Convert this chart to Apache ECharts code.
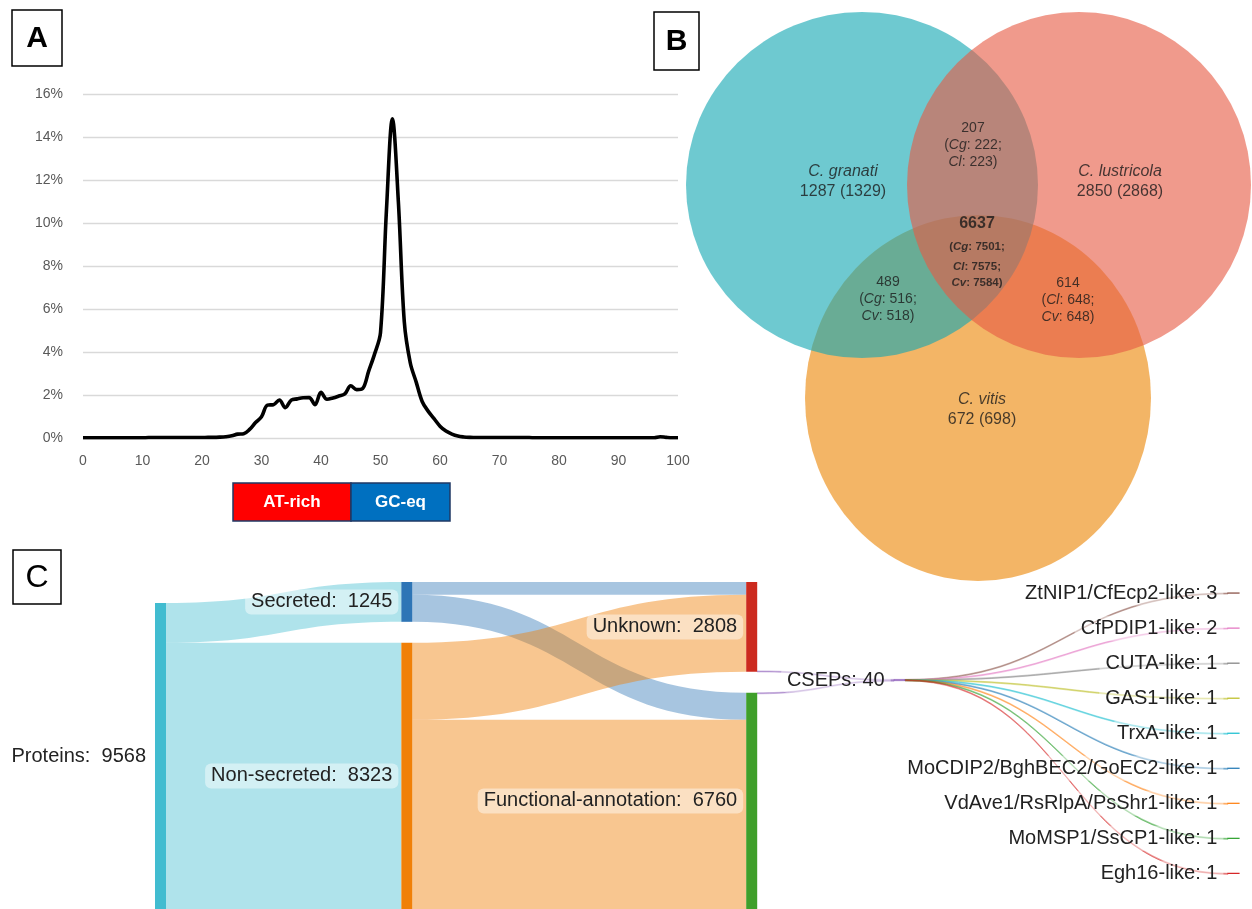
<!DOCTYPE html>
<html>
<head>
<meta charset="utf-8">
<script src="https://cdn.jsdelivr.net/npm/echarts@6/dist/echarts.min.js"></script>
<style>
html,body{margin:0;padding:0;background:#ffffff;}
#main{width:1252px;height:909px;}
</style>
</head>
<body>
<div id="main"></div>
<script>
// ---------------- Panel A data: GC content distribution ----------------
const gcContent = [0,1,2,3,4,5,6,7,8,9,10,11,12,13,14,15,16,17,18,19,20,21,22,23,24,25,26,27,28,29,30,
  31,32,33,34,35,36,37,38,39,40,41,42,43,44,45,46,47,48,49,50,51,52,53,54,55,56,57,58,59,60,
  61,62,63,64,65,66,67,68,69,70,71,72,73,74,75,76,77,78,79,80,81,82,83,84,85,86,87,88,89,90,
  91,92,93,94,95,96,97,98,99,100];
const genomeShare = [0.01,0.01,0.01,0.01,0.01,0.01,0.01,0.01,0.01,0.01,0.01,
  0.02,0.02,0.02,0.02,0.02,0.02,0.02,0.02,0.02,0.02,
  0.03,0.03,0.04,0.06,0.10,0.18,0.20,0.40,0.72,0.99,
  1.53,1.55,1.77,1.41,1.76,1.82,1.87,1.88,1.55,2.12,
  1.80,1.86,1.95,2.05,2.43,2.25,2.30,3.10,3.90,4.90,
  10.60,14.85,11.00,5.40,3.50,2.60,1.70,1.25,0.90,0.55,
  0.32,0.18,0.09,0.05,0.03,0.02,0.02,0.02,0.02,0.02,
  0.02,0.02,0.02,0.02,0.02,0.01,0.01,0.01,0.01,0.01,
  0.01,0.01,0.01,0.01,0.01,0.01,0.01,0.01,0.01,0.01,
  0.01,0.01,0.01,0.01,0.01,0.01,0.06,0.03,0.01,0.01];
const xTickStep = 10;
const yTickStep = 2;
const yMax = 16;
const regionNames = ['AT-rich', 'GC-eq'];

// ---------------- Panel B data: Venn diagram ----------------
const vennSpecies = ['C. granati', 'C. lustricola', 'C. vitis'];
const vennUnique = [1287, 2850, 672];
const vennUniqueTotal = [1329, 2868, 698];
const pairGL = [207, 222, 223];      // shared, Cg, Cl
const pairGV = [489, 516, 518];      // shared, Cg, Cv
const pairLV = [614, 648, 648];      // shared, Cl, Cv
const coreAll = [6637, 7501, 7575, 7584]; // shared, Cg, Cl, Cv

// ---------------- Panel C data: Sankey ----------------
const sankeyNodes = ['Proteins', 'Secreted', 'Non-secreted', 'Unknown', 'Functional-annotation', 'CSEPs'];
const sankeyNodeValues = [9568, 1245, 8323, 2808, 6760, 40];
const flowSource = ['Proteins', 'Proteins', 'Secreted', 'Secreted', 'Non-secreted', 'Non-secreted', 'Unknown', 'Functional-annotation'];
const flowTarget = ['Secreted', 'Non-secreted', 'Unknown', 'Functional-annotation', 'Unknown', 'Functional-annotation', 'CSEPs', 'CSEPs'];
const flowValue = [1245, 8323, 400, 845, 2408, 5915, 28, 12];
const csepFamilies = ['ZtNIP1/CfEcp2-like', 'CfPDIP1-like', 'CUTA-like', 'GAS1-like', 'TrxA-like',
  'MoCDIP2/BghBEC2/GoEC2-like', 'VdAve1/RsRlpA/PsShr1-like', 'MoMSP1/SsCP1-like', 'Egh16-like'];
const csepFamilyCounts = [3, 2, 1, 1, 1, 1, 1, 1, 1];

// ---------------- styling / layout ----------------
const FONT = 'Liberation Sans, Arial, Helvetica, sans-serif';
const nodeColors = {
  'Proteins': '#41bcd0', 'Secreted': '#2e75b6', 'Non-secreted': '#f08008',
  'Unknown': '#cc2a1e', 'Functional-annotation': '#3f9f2a', 'CSEPs': '#9467bd'
};
const linkRgba = {
  'Proteins': 'rgba(65,188,208,0.42)', 'Secreted': 'rgba(46,117,182,0.42)',
  'Non-secreted': 'rgba(239,128,8,0.45)'
};
const familyColors = ['#8c564b', '#e377c2', '#7f7f7f', '#bcbd22', '#17becf', '#1f77b4', '#ff7f0e', '#2ca02c', '#d62728'];
const nodeDepth = {'Proteins': 0, 'Secreted': 10, 'Non-secreted': 10, 'Unknown': 24, 'Functional-annotation': 24, 'CSEPs': 30};
const doubleSpaced = {'Proteins': 1, 'Secreted': 1, 'Non-secreted': 1, 'Unknown': 1, 'Functional-annotation': 1};

const SA = {left: 155, top: 582, width: 750, height: 327, gap: 21, nodeW: 11};
const SB = {left: 894, top: 593, width: 345, gap: 35, nodeW: 11};
const csepTopY = 679.4;

const kyA = (SA.height - SA.gap) / sankeyNodeValues[0];
const spacerCValue = (csepTopY - SA.top - SA.gap) / kyA;
const leafSum = csepFamilyCounts.reduce((a, b) => a + b, 0);
SB.height = (csepFamilies.length - 1) * SB.gap + leafSum * kyA;
const spacerBValue = (csepTopY - SB.top - SB.gap) / kyA;

const labelBase = {
  show: true, position: 'left', distance: 3, color: '#222', fontSize: 20, fontFamily: FONT,
  backgroundColor: 'rgba(255,255,255,0.45)', borderRadius: 6, padding: [3, 6, 2, 6]
};
const hiddenItem = {itemStyle: {color: 'rgba(0,0,0,0)', borderWidth: 0}, label: {show: false}};

// Series A nodes
const nodesA = [Object.assign({name: '__spacer0', depth: 0, value: 0}, hiddenItem)];
sankeyNodes.forEach((n, i) => {
  if (n === 'CSEPs') {
    nodesA.push(Object.assign({name: '__sink', depth: 29, value: 0}, hiddenItem));
    nodesA.push(Object.assign({name: '__spacerC', depth: 30, value: spacerCValue}, hiddenItem));
  }
  nodesA.push({
    name: n, depth: nodeDepth[n], value: sankeyNodeValues[i],
    itemStyle: {color: nodeColors[n], borderWidth: n === 'CSEPs' ? 0.6 : 0, borderColor: nodeColors[n]},
    label: Object.assign({}, labelBase, {formatter: n + (doubleSpaced[n] ? ':  ' : ': ') + sankeyNodeValues[i]})
  });
});
const linksA = flowSource.map((s, i) => {
  const t = flowTarget[i];
  if (t === 'CSEPs') {
    return {source: s, target: t, value: flowValue[i],
      lineStyle: {color: nodeColors['CSEPs'], opacity: 0.55, borderColor: nodeColors['CSEPs'], borderWidth: 0.7}};
  }
  return {source: s, target: t, value: flowValue[i], lineStyle: {color: linkRgba[s], opacity: 1}};
});
// invisible remainder of "Unknown" so the CSEPs ribbon leaves from its lower edge
const unknownIdx = sankeyNodes.indexOf('Unknown');
const unknownToCsep = flowValue[flowSource.indexOf('Unknown')];
linksA.push({source: 'Unknown', target: '__sink', value: sankeyNodeValues[unknownIdx] - unknownToCsep,
  lineStyle: {color: 'rgba(0,0,0,0)', opacity: 0}});

// Series B nodes (CSEPs fan-out)
const nodesB = [Object.assign({name: '__spacerB', depth: 0, value: spacerBValue}, hiddenItem),
  Object.assign({name: 'CSEPs', depth: 0, value: leafSum}, hiddenItem)];
const linksB = [];
csepFamilies.forEach((f, i) => {
  nodesB.push({
    name: f, depth: 1, value: csepFamilyCounts[i],
    itemStyle: {color: familyColors[i], borderColor: familyColors[i], borderWidth: 1.2},
    label: Object.assign({}, labelBase, {formatter: f + ': ' + csepFamilyCounts[i], distance: 4})
  });
  linksB.push({source: 'CSEPs', target: f, value: csepFamilyCounts[i],
    lineStyle: {color: familyColors[i], opacity: 0.5, borderColor: familyColors[i], borderWidth: 0.8}});
});

// Venn layout (pixel-space coordinates of the diagram area)
const vennShapes = [
  {set: 2, cx: 978, cy: 398, w: 346, h: 366, color: 'rgb(235,134,6)'},
  {set: 0, cx: 862, cy: 185, w: 352, h: 346, color: 'rgb(19,167,178)'},
  {set: 1, cx: 1079, cy: 185, w: 344, h: 346, color: 'rgb(231,91,68)'}
];
const rich = (fs, lh, bold) => ({i: {fontStyle: 'italic', fontSize: fs, lineHeight: lh, fontWeight: bold ? 'bold' : 'normal', fontFamily: FONT, color: '#1a1a1a'}});
const vennLabels = [
  {x: 843, y: 182, text: '{i|' + vennSpecies[0] + '}\n' + vennUnique[0] + ' (' + vennUniqueTotal[0] + ')', fs: 16, lh: 20},
  {x: 1120, y: 182, text: '{i|' + vennSpecies[1] + '}\n' + vennUnique[1] + ' (' + vennUniqueTotal[1] + ')', fs: 16, lh: 20},
  {x: 982, y: 410, text: '{i|' + vennSpecies[2] + '}\n' + vennUnique[2] + ' (' + vennUniqueTotal[2] + ')', fs: 16, lh: 20},
  {x: 973, y: 145, text: pairGL[0] + '\n({i|Cg}: ' + pairGL[1] + ';\n{i|Cl}: ' + pairGL[2] + ')', fs: 14, lh: 17},
  {x: 888, y: 299, text: pairGV[0] + '\n({i|Cg}: ' + pairGV[1] + ';\n{i|Cv}: ' + pairGV[2] + ')', fs: 14, lh: 17},
  {x: 1068, y: 300, text: pairLV[0] + '\n({i|Cl}: ' + pairLV[1] + ';\n{i|Cv}: ' + pairLV[2] + ')', fs: 14, lh: 17},
  {x: 977, y: 224, text: String(coreAll[0]), fs: 16, lh: 18, bold: true},
  {x: 977, y: 247, text: '({i|Cg}: ' + coreAll[1] + ';', fs: 11.5, lh: 14, bold: true},
  {x: 977, y: 267, text: '{i|Cl}: ' + coreAll[2] + ';', fs: 11.5, lh: 14, bold: true},
  {x: 977, y: 283, text: '{i|Cv}: ' + coreAll[3] + ')', fs: 11.5, lh: 14, bold: true}
];

const option = {
  animation: false,
  backgroundColor: '#ffffff',
  textStyle: {fontFamily: FONT},
  grid: [
    {left: 83, top: 94, width: 595, height: 344, outerBoundsMode: 'none', containLabel: false},
    {left: 650, top: 0, width: 602, height: 602, outerBoundsMode: 'none', containLabel: false}
  ],
  xAxis: [
    {gridIndex: 0, type: 'value', min: 0, max: 100, interval: xTickStep,
      axisLine: {show: false}, axisTick: {show: false}, splitLine: {show: false},
      axisLabel: {color: '#595959', fontSize: 14, margin: 16, fontFamily: FONT}},
    {gridIndex: 1, type: 'value', min: 650, max: 1252, show: false}
  ],
  yAxis: [
    {gridIndex: 0, type: 'value', min: 0, max: yMax, interval: yTickStep,
      axisLine: {show: false}, axisTick: {show: false},
      splitLine: {show: true, lineStyle: {color: '#d9d9d9', width: 1.3}},
      axisLabel: {color: '#595959', fontSize: 14, margin: 20, fontFamily: FONT, formatter: '{value}%'}},
    {gridIndex: 1, type: 'value', min: 0, max: 602, inverse: true, show: false}
  ],
  series: [
    {
      type: 'line', xAxisIndex: 0, yAxisIndex: 0,
      data: gcContent.map((x, i) => [x, genomeShare[i]]),
      showSymbol: false, smooth: 0.35, silent: true,
      lineStyle: {color: '#000000', width: 3.6}, z: 5
    },
    {
      type: 'scatter', xAxisIndex: 1, yAxisIndex: 1, silent: true, clip: false,
      data: vennShapes.map(s => ({value: [s.cx, s.cy], symbolSize: [s.w, s.h],
        itemStyle: {color: s.color, opacity: 0.614}})),
      symbol: 'circle'
    },
    {
      type: 'scatter', xAxisIndex: 1, yAxisIndex: 1, silent: true, clip: false, z: 10,
      symbolSize: 0, itemStyle: {color: 'rgba(0,0,0,0)'},
      data: vennLabels.map(l => ({
        value: [l.x, l.y],
        label: {show: true, position: 'inside', formatter: l.text, color: '#1a1a1a', fontFamily: FONT,
          fontSize: l.fs, lineHeight: l.lh, fontWeight: l.bold ? 'bold' : 'normal', align: 'center',
          rich: rich(l.fs, l.lh, l.bold)}
      }))
    },
    {
      type: 'sankey', left: SA.left, top: SA.top, width: SA.width, height: SA.height,
      nodeWidth: SA.nodeW, nodeGap: SA.gap, layoutIterations: 0, nodeAlign: 'left',
      draggable: false, silent: true, emphasis: {disabled: true},
      data: nodesA, links: linksA,
      lineStyle: {curveness: 0.5}
    },
    {
      type: 'sankey', left: SB.left, top: SB.top, width: SB.width, height: SB.height,
      nodeWidth: SB.nodeW, nodeGap: SB.gap, layoutIterations: 0, nodeAlign: 'left',
      draggable: false, silent: true, emphasis: {disabled: true},
      data: nodesB, links: linksB,
      lineStyle: {curveness: 0.5}
    }
  ],
  graphic: [
    {type: 'rect', shape: {x: 12, y: 10, width: 50, height: 56}, style: {fill: '#fff', stroke: '#000', lineWidth: 1.5}, z: 20},
    {type: 'text', x: 37, y: 39, z: 21, style: {text: 'A', font: 'bold 30px ' + FONT, fill: '#000', align: 'center', verticalAlign: 'middle', textAlign: 'center', textVerticalAlign: 'middle'}},
    {type: 'rect', shape: {x: 654, y: 12, width: 45, height: 58}, style: {fill: '#fff', stroke: '#000', lineWidth: 1.5}, z: 20},
    {type: 'text', x: 676.5, y: 42, z: 21, style: {text: 'B', font: 'bold 30px ' + FONT, fill: '#000', align: 'center', verticalAlign: 'middle', textAlign: 'center', textVerticalAlign: 'middle'}},
    {type: 'rect', shape: {x: 13, y: 550, width: 48, height: 54}, style: {fill: '#fff', stroke: '#000', lineWidth: 1.5}, z: 20},
    {type: 'text', x: 37, y: 578, z: 21, style: {text: 'C', font: '32px ' + FONT, fill: '#000', align: 'center', verticalAlign: 'middle', textAlign: 'center', textVerticalAlign: 'middle'}},
    {type: 'rect', shape: {x: 233, y: 483, width: 118, height: 38}, style: {fill: '#ff0000', stroke: '#1f3864', lineWidth: 1.5}, z: 20},
    {type: 'text', x: 292, y: 502, z: 21, style: {text: regionNames[0], font: 'bold 17px ' + FONT, fill: '#fff', align: 'center', verticalAlign: 'middle', textAlign: 'center', textVerticalAlign: 'middle'}},
    {type: 'rect', shape: {x: 351, y: 483, width: 99, height: 38}, style: {fill: '#0070c0', stroke: '#1f3864', lineWidth: 1.5}, z: 20},
    {type: 'text', x: 400.5, y: 502, z: 21, style: {text: regionNames[1], font: 'bold 17px ' + FONT, fill: '#fff', align: 'center', verticalAlign: 'middle', textAlign: 'center', textVerticalAlign: 'middle'}}
  ]
};

const chart = echarts.init(document.getElementById('main'), null, {renderer: 'canvas', width: 1252, height: 909});
chart.setOption(option);
</script>
</body>
</html>
